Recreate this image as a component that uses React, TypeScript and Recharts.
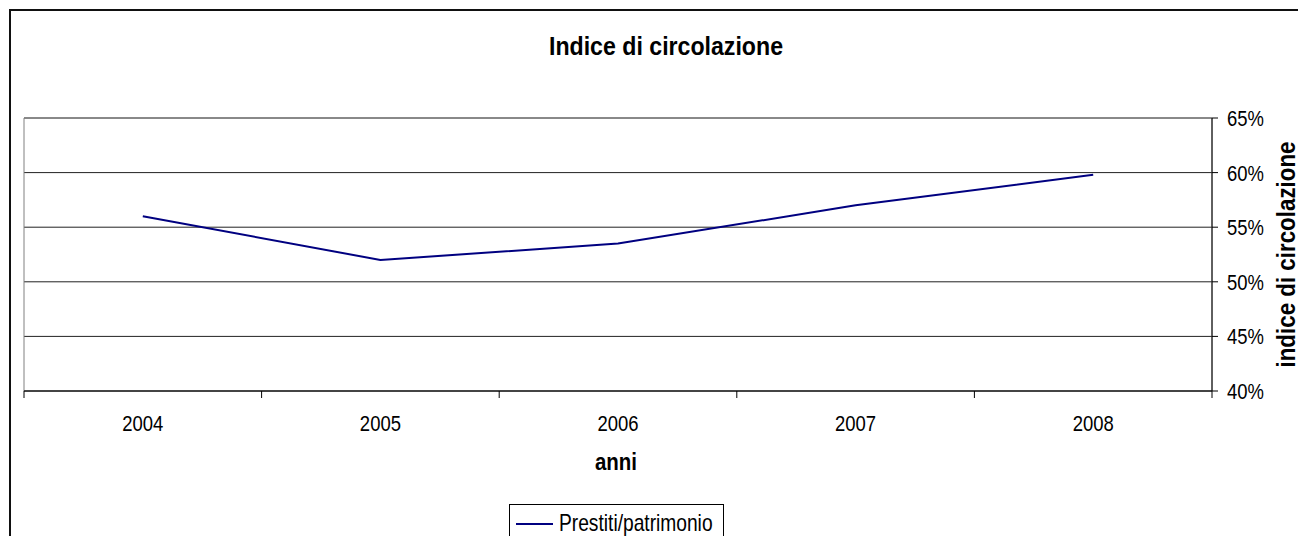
import { LineChart, Line, XAxis, YAxis, CartesianGrid, Legend, ReferenceArea } from 'recharts';

const years = ['2004', '2005', '2006', '2007', '2008'];
const prestitiPatrimonio = [0.56, 0.52, 0.535, 0.57, 0.598];
const yTicks = [0.4, 0.45, 0.5, 0.55, 0.6, 0.65];

const data = years.map((anno, i) => ({ anno, valore: prestitiPatrimonio[i] }));

const W = 1306;
const H = 544;
const MARGIN = { top: 118, right: 24, left: 24, bottom: 123 };
const Y_AXIS_W = 70;
const PLOT_W = W - MARGIN.left - MARGIN.right - Y_AXIS_W;
const HALF_BAND = PLOT_W / years.length / 2;

const FONT = '"Liberation Sans", Arial, sans-serif';

// the original glyphs are a bit condensed, squeeze text horizontally
const Squeezed = ({ x, y, sx, size, bold, anchor, rotate, children }: any) => (
  <text
    transform={`translate(${x},${y})${rotate ? ` rotate(${rotate})` : ''} scale(${sx},1)`}
    textAnchor={anchor}
    fontFamily={FONT}
    fontWeight={bold ? 'bold' : 'normal'}
    fontSize={size}
    fill="#000"
  >
    {children}
  </text>
);

const XTick = (props: any) => {
  const { x, y, payload, index, visibleTicksCount } = props;
  const last = index === visibleTicksCount - 1;
  return (
    <g>
      <line x1={x - HALF_BAND} x2={x - HALF_BAND} y1={y} y2={y + 7} stroke="#000" />
      {last && <line x1={x + HALF_BAND} x2={x + HALF_BAND} y1={y} y2={y + 7} stroke="#000" />}
      <Squeezed x={x} y={y + 40} sx={0.84} size={22} anchor="middle">
        {payload.value}
      </Squeezed>
    </g>
  );
};

const YTick = (props: any) => {
  const { x, y, payload } = props;
  return (
    <Squeezed x={x} y={y + 8} sx={0.84} size={22} anchor="start">
      {`${Math.round(payload.value * 100)}%`}
    </Squeezed>
  );
};

const LegendBox = () => (
  <div
    style={{
      position: 'relative',
      boxSizing: 'border-box',
      width: 215,
      height: 40,
      border: '1px solid #000',
      background: '#fff',
      fontFamily: FONT,
      color: '#000',
      whiteSpace: 'nowrap',
    }}
  >
    <svg width={215} height={38} style={{ position: 'absolute', left: 0, top: 0 }}>
      <line x1={6} x2={43} y1={19} y2={19} stroke="#000080" strokeWidth={2} />
      <text transform="translate(49,26) scale(0.8,1)" fontFamily={FONT} fontSize={24} fill="#000">
        Prestiti/patrimonio
      </text>
    </svg>
  </div>
);

export default function App() {
  return (
    <div style={{ position: 'relative', margin: -8, width: W, height: H, overflow: 'hidden', background: '#fff' }}>
      <div
        style={{
          position: 'absolute',
          left: 9,
          top: 9,
          width: W,
          height: H,
          borderLeft: '2px solid #111',
          borderTop: '2px solid #111',
        }}
      />
      <svg width={W} height={60} style={{ position: 'absolute', left: 0, top: 0 }}>
        <Squeezed x={666} y={55} sx={0.89} size={26} bold anchor="middle">
          Indice di circolazione
        </Squeezed>
      </svg>
      <div style={{ position: 'absolute', left: 0, top: 0 }}>
        <LineChart width={W} height={H} data={data} margin={MARGIN}>
          <CartesianGrid vertical={false} stroke="#222" />
          <ReferenceArea y1={0.4} y2={0.65} fill="none" stroke="#808080" strokeWidth={1} />
          <XAxis
            dataKey="anno"
            scale="band"
            axisLine={{ stroke: '#000' }}
            tickLine={false}
            tickSize={0}
            tickMargin={0}
            tick={<XTick />}
            interval={0}
            label={{
              content: ({ viewBox }: any) => (
                <Squeezed x={viewBox.x + viewBox.width / 2 - 2} y={viewBox.y + 79} sx={0.89} size={23} bold anchor="middle">
                  anni
                </Squeezed>
              ),
            }}
          />
          <YAxis
            orientation="right"
            width={Y_AXIS_W}
            domain={[0.4, 0.65]}
            ticks={yTicks}
            axisLine={{ stroke: '#000' }}
            tickLine={{ stroke: '#000' }}
            tickSize={6}
            tickMargin={9}
            tick={<YTick />}
            label={{
              content: ({ viewBox }: any) => (
                <Squeezed
                  x={viewBox.x + 83}
                  y={viewBox.y + viewBox.height / 2}
                  sx={0.86}
                  size={26}
                  bold
                  rotate={-90}
                  anchor="middle"
                >
                  indice di circolazione
                </Squeezed>
              ),
            }}
          />
          <Line
            type="linear"
            dataKey="valore"
            name="Prestiti/patrimonio"
            stroke="#000080"
            strokeWidth={2}
            dot={false}
            activeDot={false}
            isAnimationActive={false}
          />
          <Legend
            layout="horizontal"
            align="center"
            verticalAlign="middle"
            content={<LegendBox />}
            wrapperStyle={{ left: 509, top: 504, width: 215, height: 40 }}
          />
        </LineChart>
      </div>
    </div>
  );
}
